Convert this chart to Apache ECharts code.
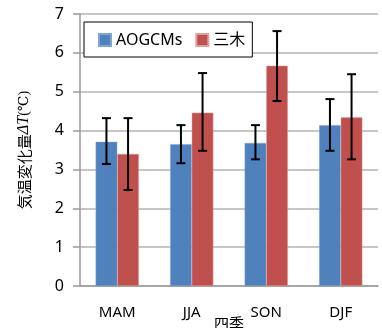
<!DOCTYPE html>
<html><head><meta charset="utf-8">
<script src="https://cdn.jsdelivr.net/npm/echarts@6/dist/echarts.min.js"></script>
<style>html,body{margin:0;padding:0;background:#fff}#c{width:382px;height:328px}</style>
</head><body><div id="c"></div>
<script>
const categories = ['MAM', 'JJA', 'SON', 'DJF'];
const seriesNames = ['AOGCMs', '三木'];
const aogcmValues = [3.71, 3.65, 3.68, 4.14];
const aogcmLow = [3.14, 3.16, 3.26, 3.48];
const aogcmHigh = [4.32, 4.14, 4.14, 4.81];
const mikiValues = [3.40, 4.46, 5.67, 4.34];
const mikiLow = [2.47, 3.48, 4.76, 3.26];
const mikiHigh = [4.32, 5.48, 6.56, 5.45];
const yTicks = [0, 1, 2, 3, 4, 5, 6, 7];

const FONT = '"Noto Sans", "Noto Sans CJK JP", sans-serif';
const BAR_FRAC = 0.29;
const colors = ['#4F81BD', '#C0504D'];

function errSeries(idx, low, high) {
  return {
    type: 'custom',
    name: seriesNames[idx] + '_err',
    data: categories.map((c, i) => [i, low[i], high[i]]),
    z: 10,
    renderItem: function (params, api) {
      const i = api.value(0);
      const band = api.size([1, 0])[0];
      const bw = band * BAR_FRAC;
      const off = idx === 0 ? -bw / 2 : bw / 2;
      const lo = api.coord([i, api.value(1)]);
      const hi = api.coord([i, api.value(2)]);
      const x = lo[0] + off;
      const cap = 4.5;
      const style = { stroke: '#000', lineWidth: 2, fill: null };
      return {
        type: 'group',
        children: [
          { type: 'line', shape: { x1: x, y1: lo[1], x2: x, y2: hi[1] }, style: style },
          { type: 'line', shape: { x1: x - cap, y1: lo[1], x2: x + cap, y2: lo[1] }, style: style },
          { type: 'line', shape: { x1: x - cap, y1: hi[1], x2: x + cap, y2: hi[1] }, style: style }
        ]
      };
    }
  };
}

const chart = echarts.init(document.getElementById('c'), null, { renderer: 'canvas' });
chart.setOption({
  animation: false,
  textStyle: { fontFamily: FONT },
  grid: { left: 80, right: 4, top: 14, bottom: 42, containLabel: false, outerBoundsMode: 'none' },
  legend: {
    data: seriesNames.map(n => ({ name: n, icon: 'rect' })),
    left: 84, top: 22,
    itemWidth: 12, itemHeight: 12, itemGap: 13,
    padding: [10, 7, 9, 14],
    backgroundColor: '#fff', borderColor: '#000', borderWidth: 1,
    textStyle: { fontSize: 16, color: '#000', fontFamily: FONT }
  },
  xAxis: {
    type: 'category', data: categories,
    name: '四季', nameLocation: 'middle', nameGap: 31, nameMoveOverlap: false,
    nameTextStyle: { fontSize: 15, color: '#000', fontFamily: FONT, verticalAlign: 'top' },
    axisLine: { lineStyle: { color: '#9a9a9a', width: 1.5 } },
    axisTick: { show: false },
    axisLabel: { fontSize: 15, color: '#000', margin: 19, fontFamily: FONT },
    splitLine: { show: false }
  },
  yAxis: {
    type: 'value', min: 0, max: 7, interval: 1,
    name: '{a|気温変化量}{i|ΔT}{s|(℃)}', nameLocation: 'middle', nameGap: 48,
    nameRotate: 90, nameMoveOverlap: false,
    nameTextStyle: {
      rich: {
        a: { fontSize: 15, color: '#000', fontFamily: '"Noto Sans CJK JP", sans-serif' },
        i: { fontSize: 16, color: '#000', fontStyle: 'italic', fontFamily: '"Liberation Serif", serif' },
        s: { fontSize: 14, color: '#000', fontFamily: '"Liberation Serif", "DejaVu Serif", serif' }
      }
    },
    axisLine: { show: true, lineStyle: { color: '#9a9a9a', width: 1.5 } },
    axisTick: { show: true, length: 7, lineStyle: { color: '#9a9a9a', width: 1.5 } },
    axisLabel: { fontSize: 16, color: '#000', margin: 16, fontFamily: FONT,
      formatter: v => yTicks.includes(v) ? String(v) : '' },
    splitLine: { lineStyle: { color: '#b3b3b3', width: 1.5 } }
  },
  series: [
    { type: 'bar', name: seriesNames[0], data: aogcmValues, barWidth: (BAR_FRAC * 100) + '%', barGap: '0%',
      itemStyle: { color: colors[0], borderColor: '#7fa3d3', borderWidth: 0.5 } },
    { type: 'bar', name: seriesNames[1], data: mikiValues, barWidth: (BAR_FRAC * 100) + '%', barGap: '0%',
      itemStyle: { color: colors[1], borderColor: '#e0a0a0', borderWidth: 0.5 } },
    errSeries(0, aogcmLow, aogcmHigh),
    errSeries(1, mikiLow, mikiHigh)
  ]
});
</script></body></html>
